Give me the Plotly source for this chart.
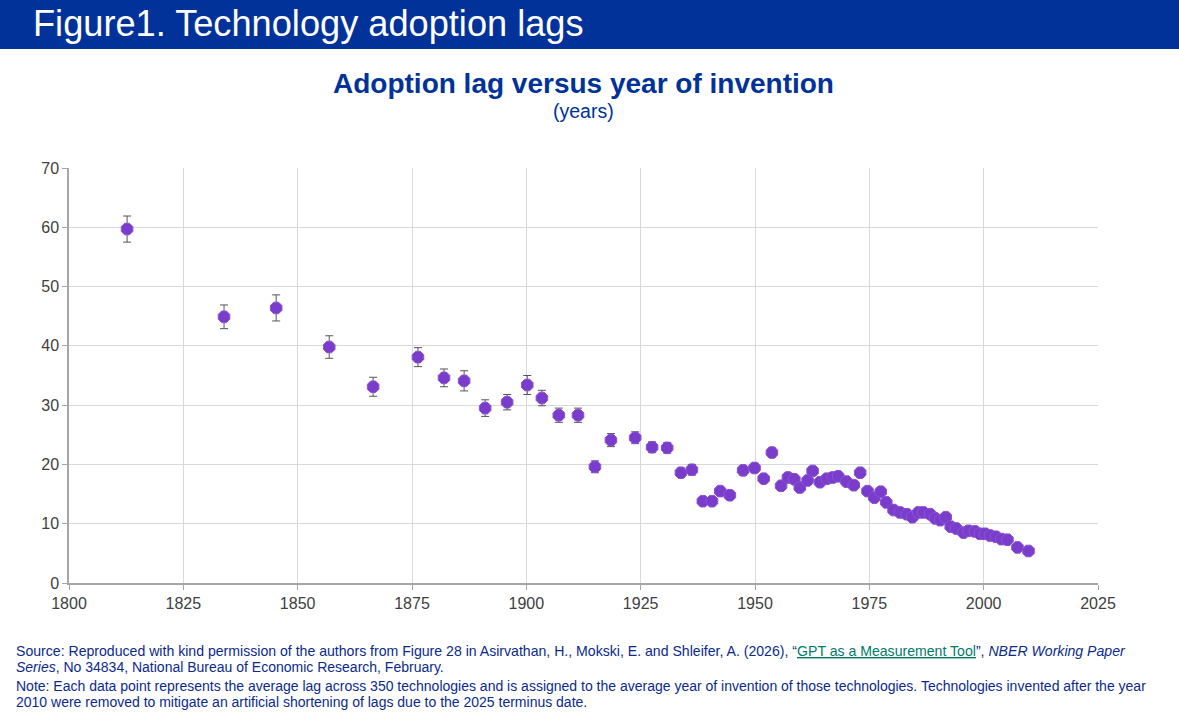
import plotly.graph_objects as go

# ---- data ----
years = [1812.7, 1833.9, 1845.3, 1856.9, 1866.5, 1876.3, 1882.0, 1886.4, 1891.0, 1895.8,
         1900.2, 1903.4, 1907.1, 1911.3, 1915.0, 1918.5, 1923.8, 1927.5, 1930.8, 1933.8,
         1936.2, 1938.6, 1940.6, 1942.4, 1944.5, 1947.4, 1949.9, 1951.9, 1953.7, 1955.7,
         1957.2, 1958.6, 1959.8, 1961.5, 1962.6, 1964.2, 1965.7, 1967.0, 1968.2, 1970.0,
         1971.6, 1973.0, 1974.6, 1976.1, 1977.5, 1978.7, 1980.3, 1981.7, 1983.2, 1984.4,
         1985.7, 1986.8, 1988.3, 1989.4, 1990.5, 1991.7, 1992.8, 1994.0, 1995.6, 1996.7,
         1998.1, 1999.2, 2000.3, 2001.4, 2002.7, 2003.9, 2005.2, 2007.4, 2009.8]
lags = [59.7, 44.9, 46.4, 39.8, 33.1, 38.1, 34.6, 34.1, 29.5, 30.5,
        33.4, 31.2, 28.3, 28.3, 19.6, 24.1, 24.5, 22.9, 22.8, 18.6,
        19.1, 13.8, 13.8, 15.5, 14.8, 19.0, 19.4, 17.6, 22.0, 16.4,
        17.8, 17.5, 16.1, 17.3, 18.9, 17.0, 17.6, 17.8, 18.0, 17.1,
        16.5, 18.6, 15.5, 14.4, 15.4, 13.6, 12.3, 11.9, 11.6, 11.1,
        11.9, 11.9, 11.6, 10.9, 10.6, 11.1, 9.5, 9.2, 8.5, 8.8,
        8.7, 8.3, 8.3, 8.0, 7.8, 7.4, 7.3, 6.0, 5.4]
errors = [2.2, 2.0, 2.2, 1.9, 1.6, 1.6, 1.5, 1.7, 1.4, 1.3,
          1.6, 1.3, 1.2, 1.2, 1.0, 1.1, 1.0, 0.9, 0.9, 0.8,
          0.9, 0.7, 0.7, 0.7, 0.7, 0.8, 0.8, 0.7, 0.8, 0.7,
          0.7, 0.7, 0.7, 0.7, 0.7, 0.7, 0.7, 0.7, 0.7, 0.7,
          0.7, 0.7, 0.6, 0.6, 0.6, 0.6, 0.6, 0.6, 0.6, 0.6,
          0.6, 0.6, 0.6, 0.6, 0.6, 0.6, 0.5, 0.5, 0.5, 0.5,
          0.5, 0.5, 0.5, 0.5, 0.5, 0.5, 0.5, 0.5, 0.5]
x_ticks = [1800, 1825, 1850, 1875, 1900, 1925, 1950, 1975, 2000, 2025]
y_ticks = [0, 10, 20, 30, 40, 50, 60, 70]

# ---- layout geometry ----
W, H = 1179, 717
L, R, T, B = 69, 1098, 168, 583
PW, PH = R - L, B - T

def px(xp):
    return (xp - L) / PW

def py(yp):
    return (B - yp) / PH

BLUE = "#003299"
TXT = "#0b2a8a"
FONT = "Liberation Sans, Arial, sans-serif"

fig = go.Figure()
fig.add_trace(go.Scatter(
    x=years, y=lags, mode="markers",
    marker=dict(symbol="octagon", size=12.5, color="#7a3ccb",
                line=dict(width=1, color="#8a52d2")),
    error_y=dict(type="data", array=errors, visible=True,
                 color="#555555", thickness=1, width=4),
    showlegend=False, hoverinfo="x+y",
))

fig.update_layout(
    width=W, height=H,
    margin=dict(l=L, r=W - R, t=T, b=H - B),
    paper_bgcolor="white", plot_bgcolor="white",
    font=dict(family=FONT),
    xaxis=dict(range=[1800, 2025], tickvals=x_ticks, ticktext=[str(v) for v in x_ticks],
               showgrid=True, gridcolor="#d9d9d9", gridwidth=1,
               showline=True, linecolor="#a6a6a6", linewidth=1.5,
               ticks="outside", ticklen=5, tickcolor="#a6a6a6",
               tickfont=dict(size=16, color="#404040", family=FONT),
               zeroline=False, fixedrange=True),
    yaxis=dict(range=[0, 70], tickvals=y_ticks,
               showgrid=True, gridcolor="#d9d9d9", gridwidth=1,
               showline=True, linecolor="#a6a6a6", linewidth=1.5,
               ticks="outside", ticklen=5, tickcolor="#a6a6a6",
               tickfont=dict(size=16, color="#404040", family=FONT),
               zeroline=False, fixedrange=True),
)

# header bar
fig.add_shape(type="rect", xref="paper", yref="paper",
              x0=px(0), x1=px(W), y0=py(49), y1=py(0),
              fillcolor=BLUE, line=dict(width=0), layer="above")

def note(text, x, y, size, color, xanchor="left", bold=False):
    fig.add_annotation(xref="paper", yref="paper", x=px(x), y=py(y),
                       text=("<b>%s</b>" % text) if bold else text,
                       showarrow=False, xanchor=xanchor, yanchor="middle",
                       align="left", font=dict(size=size, color=color, family=FONT))

note("Figure1. Technology adoption lags", 31, 24, 36.2, "white")
note("Adoption lag versus year of invention", 583, 84, 28, BLUE, xanchor="center", bold=True)
note("(years)", 583, 111, 19.5, BLUE, xanchor="center")

link = '<span style="color:#00796b"><u>GPT as a Measurement Tool</u></span>'
note("Source: Reproduced with kind permission of the authors from Figure 28 in Asirvathan, H., "
     "Mokski, E. and Shleifer, A. (2026), \u201c" + link + "\u201d, <i>NBER Working Paper</i>",
     14, 651, 14.1, TXT)
note("<i>Series</i>, No 34834, National Bureau of Economic Research, February.", 14, 667, 14.0, TXT)
note("Note: Each data point represents the average lag across 350 technologies and is assigned to "
     "the average year of invention of those technologies. Technologies invented after the year",
     14, 686, 14.0, TXT)
note("2010 were removed to mitigate an artificial shortening of lags due to the 2025 terminus date.",
     14, 702, 14.0, TXT)

fig.write_html("out.html", post_script="document.body.style.margin='0';",
               config={"displayModeBar": False})
